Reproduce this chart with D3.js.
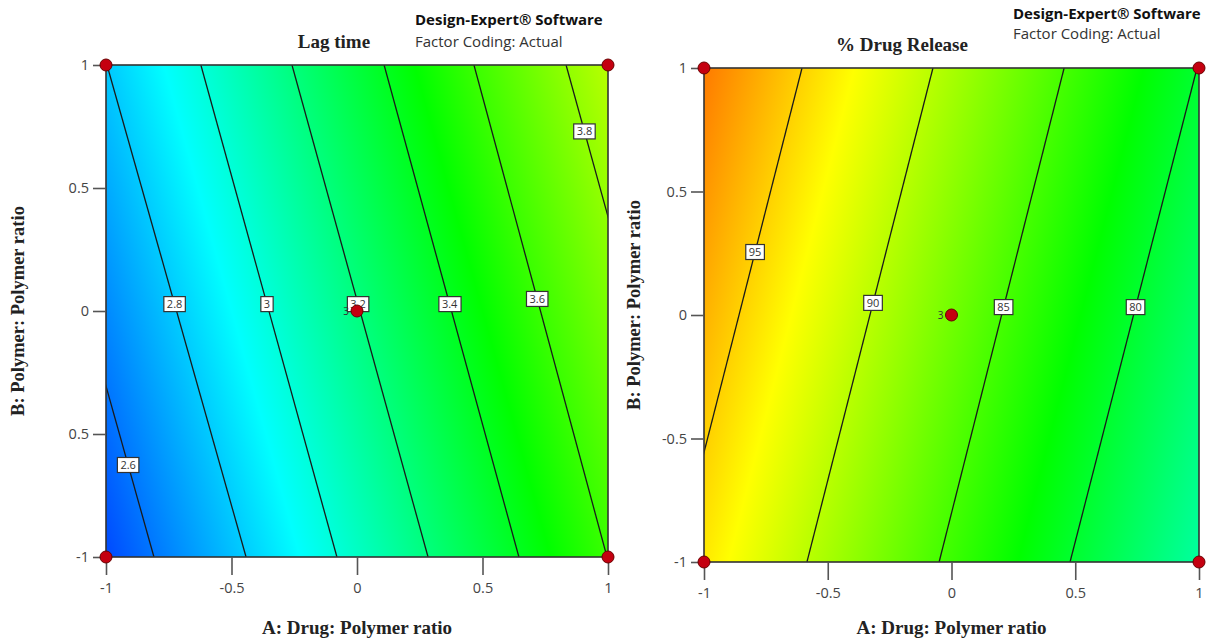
<!DOCTYPE html>
<html><head><meta charset="utf-8">
<script src="https://cdn.jsdelivr.net/npm/d3@7"></script>
<style>body{margin:0;background:#fff} svg{display:block}</style>
</head><body>
<svg id="chart" width="1208" height="642"></svg>
<script>
// ---------------- data ----------------
const xTickValues = [-1, -0.5, 0, 0.5, 1];
const xTickLabels = ["-1", "-0.5", "0", "0.5", "1"];
const yTickValues = [-1, -0.5, 0, 0.5, 1];
const lagYTickLabels = ["-1", "0.5", "0", "0.5", "1"];
const relYTickLabels = ["-1", "-0.5", "0", "0.5", "1"];

// Lag time contours: A where each contour meets B = 1 (top) and B = -1 (bottom)
const lagLevels = [2.6, 2.8, 3.0, 3.2, 3.4, 3.6, 3.8];
const lagLevelLabels = ["2.6", "2.8", "3", "3.2", "3.4", "3.6", "3.8"];
const lagTopA = [-1.359, -0.996, -0.622, -0.259, 0.108, 0.466, 0.833];
const lagBottomA = [-0.809, -0.442, -0.080, 0.283, 0.645, 0.996, 1.375];
const lagLabelB = [-0.626, 0.028, 0.028, 0.028, 0.028, 0.049, 0.73];
const lagColorValues = [2.33, 2.92, 3.47, 4.05, 4.6];

// % Drug Release contours
const relLevels = [95, 90, 85, 80];
const relLevelLabels = ["95", "90", "85", "80"];
const relTopA = [-0.604, -0.075, 0.455, 0.992];
const relBottomA = [-1.113, -0.584, -0.050, 0.479];
const relLabelB = [0.255, 0.049, 0.032, 0.032];
const relColorValues = [60, 71, 82, 93, 104];

const colorRamp = ["#0000ff", "#00ffff", "#00ff00", "#ffff00", "#ff0000"];

// design points
const designA = [-1, -1, 1, 1, 0];
const designB = [-1, 1, -1, 1, 0];
const designLabel = ["", "", "", "", "3"];

// ---------------- drawing ----------------
const svg = d3.select("#chart");
const defs = svg.append("defs");
const sans = "'Open Sans', 'Liberation Sans', sans-serif";
const serif = "'Liberation Serif', 'DejaVu Serif', serif";

function panel(cfg) {
  const x = d3.scaleLinear().domain([-1, 1]).range([cfg.x0, cfg.x1]);
  const y = d3.scaleLinear().domain([-1, 1]).range([cfg.y1, cfg.y0]);
  const W = cfg.x1 - cfg.x0, H = cfg.y1 - cfg.y0;
  const g = svg.append("g");

  // colour field as a skewed linear gradient aligned with the contour lines
  const mids = cfg.levels.map((l, i) => (cfg.topA[i] + cfg.bottomA[i]) / 2);
  const levelToA = d3.scaleLinear().domain(cfg.levels).range(mids);
  const color = d3.scaleLinear().domain(cfg.colorValues).range(colorRamp).clamp(true);
  const slantPx = d3.mean(cfg.levels, (l, i) => x(cfg.bottomA[i]) - x(cfg.topA[i]));
  const angle = Math.atan(slantPx / H) * 180 / Math.PI;
  const vals = Array.from(new Set(cfg.levels.concat(cfg.colorValues)))
    .map(v => ({v, px: x(levelToA(v))}))
    .sort((a, b) => a.px - b.px);
  const gx1 = vals[0].px, gx2 = vals[vals.length - 1].px;
  const ym = y(0);
  const grad = defs.append("linearGradient").attr("id", cfg.id + "-grad")
    .attr("gradientUnits", "userSpaceOnUse")
    .attr("x1", gx1).attr("y1", ym).attr("x2", gx2).attr("y2", ym)
    .attr("gradientTransform", `translate(0,${ym}) skewX(${angle}) translate(0,${-ym})`);
  grad.selectAll("stop").data(vals).join("stop")
    .attr("offset", d => (d.px - gx1) / (gx2 - gx1))
    .attr("stop-color", d => color(d.v));

  defs.append("clipPath").attr("id", cfg.id + "-clip")
    .append("rect").attr("x", cfg.x0).attr("y", cfg.y0).attr("width", W).attr("height", H);

  g.append("rect").attr("x", cfg.x0).attr("y", cfg.y0).attr("width", W).attr("height", H)
    .attr("fill", `url(#${cfg.id}-grad)`);

  // contour lines
  const cl = g.append("g").attr("clip-path", `url(#${cfg.id}-clip)`);
  cl.selectAll("line").data(cfg.levels).join("line")
    .attr("x1", (l, i) => x(cfg.topA[i])).attr("y1", y(1))
    .attr("x2", (l, i) => x(cfg.bottomA[i])).attr("y2", y(-1))
    .attr("stroke", "#1a1a1a").attr("stroke-width", 1.3);

  // contour labels
  const lab = g.append("g").selectAll("g").data(cfg.levels).join("g")
    .attr("transform", (l, i) => {
      const b = cfg.labelB[i];
      const a = cfg.topA[i] + (1 - b) / 2 * (cfg.bottomA[i] - cfg.topA[i]);
      return `translate(${x(a)},${y(b)})`;
    });
  lab.append("text").attr("text-anchor", "middle").attr("dy", "0.35em")
    .attr("font-family", sans).attr("font-size", 11).attr("fill", "#333")
    .text((l, i) => cfg.levelLabels[i]);
  lab.each(function () {
    const gg = d3.select(this);
    const bb = gg.select("text").node().getBBox();
    gg.insert("rect", "text").attr("x", bb.x - 3).attr("y", -7.5).attr("width", bb.width + 6).attr("height", 15)
      .attr("fill", "#fff").attr("stroke", "#333").attr("stroke-width", 1.2);
  });

  // frame
  g.append("rect").attr("x", cfg.x0).attr("y", cfg.y0).attr("width", W).attr("height", H)
    .attr("fill", "none").attr("stroke", "#333").attr("stroke-width", 1.6);

  // axes
  const ax = g.append("g").attr("transform", `translate(0,${cfg.y1})`)
    .call(d3.axisBottom(x).tickValues(xTickValues).tickFormat((d, i) => xTickLabels[i])
      .tickSize(cfg.xTick).tickPadding(8));
  const ay = g.append("g").attr("transform", `translate(${cfg.x0},0)`)
    .call(d3.axisLeft(y).tickValues(yTickValues).tickFormat((d, i) => cfg.yLabels[i])
      .tickSize(cfg.yTick).tickPadding(4));
  [ax, ay].forEach(a => {
    a.select(".domain").remove();
    a.selectAll(".tick line").attr("stroke", "#555").attr("stroke-width", 1.6);
    a.selectAll(".tick text").attr("font-family", sans).attr("font-size", 14.5).attr("fill", "#444");
  });

  // design points
  const pts = g.append("g");
  pts.selectAll("circle").data(designA).join("circle")
    .attr("cx", (d) => x(d)).attr("cy", (d, i) => y(designB[i])).attr("r", 6)
    .attr("fill", "#c40010").attr("stroke", "#6a0000").attr("stroke-width", 1);
  pts.selectAll("text").data(designA).join("text")
    .attr("x", d => x(d) - 8).attr("y", (d, i) => y(designB[i])).attr("dy", "0.35em")
    .attr("text-anchor", "end").attr("font-family", sans).attr("font-size", 10).attr("fill", "#333")
    .text((d, i) => designLabel[i]);

  // titles
  g.append("text").attr("x", cfg.titleX).attr("y", cfg.titleY).attr("text-anchor", "middle")
    .attr("font-family", serif).attr("font-weight", "bold").attr("font-size", 19).attr("fill", "#222")
    .text(cfg.title);
  g.append("text").attr("x", cfg.deX).attr("y", cfg.deY)
    .attr("font-family", sans).attr("font-weight", "bold").attr("font-size", 15).attr("fill", "#111")
    .text("Design-Expert® Software");
  g.append("text").attr("x", cfg.deX).attr("y", cfg.deY + cfg.deGap)
    .attr("font-family", sans).attr("font-size", 15).attr("fill", "#333")
    .text("Factor Coding: Actual");
  g.append("text").attr("x", (cfg.x0 + cfg.x1) / 2).attr("y", 634).attr("text-anchor", "middle")
    .attr("font-family", serif).attr("font-weight", "bold").attr("font-size", 19).attr("fill", "#222")
    .text("A: Drug: Polymer ratio");
  g.append("text").attr("transform", `translate(${cfg.yTitleX},${cfg.yTitleY}) rotate(-90)`)
    .attr("text-anchor", "middle")
    .attr("font-family", serif).attr("font-weight", "bold").attr("font-size", 18.5).attr("fill", "#222")
    .text("B: Polymer: Polymer ratio");
}

panel({
  id: "lag", x0: 106, x1: 608, y0: 65, y1: 557,
  levels: lagLevels, levelLabels: lagLevelLabels, topA: lagTopA, bottomA: lagBottomA,
  labelB: lagLabelB, colorValues: lagColorValues, yLabels: lagYTickLabels,
  xTick: 18, yTick: 13,
  title: "Lag time", titleX: 334, titleY: 48, deX: 415, deY: 25, deGap: 22,
  yTitleX: 24, yTitleY: 311
});
panel({
  id: "rel", x0: 704, x1: 1199, y0: 68, y1: 562,
  levels: relLevels, levelLabels: relLevelLabels, topA: relTopA, bottomA: relBottomA,
  labelB: relLabelB, colorValues: relColorValues, yLabels: relYTickLabels,
  xTick: 18, yTick: 13,
  title: "% Drug Release", titleX: 902, titleY: 51, deX: 1013, deY: 19, deGap: 20,
  yTitleX: 640, yTitleY: 305
});
</script>
</body></html>
